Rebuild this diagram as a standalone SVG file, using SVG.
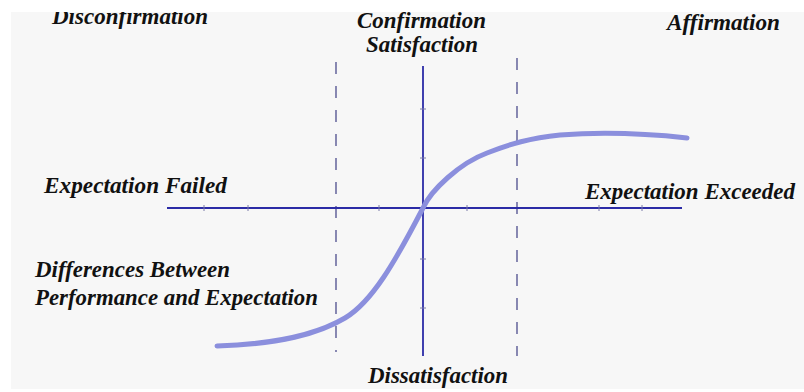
<svg xmlns="http://www.w3.org/2000/svg" width="804" height="392" viewBox="0 0 804 392">
<defs>
<style>
.lbl{font-family:"Liberation Serif","Times New Roman",serif;font-weight:bold;font-style:italic;font-size:23px;fill:#111}
.axis{stroke:#2b2ba6;stroke-width:1.8;fill:none}
.dash{stroke:#6c6ca0;stroke-width:1.6;stroke-dasharray:12 12;fill:none}
.tick{stroke:#7a7aa8;stroke-width:1;fill:none}
.curve{stroke:#8b8fdd;stroke-width:5;fill:none;stroke-linecap:round}
</style>
</defs>
<rect width="804" height="392" fill="#ffffff"/>
<rect x="11" y="12" width="793" height="377" fill="#f7f7f7"/>
<g id="connectors">
<line class="dash" x1="336" y1="62" x2="336" y2="352"/>
<line class="dash" x1="517" y1="58" x2="517" y2="356"/>
<line class="axis" x1="167" y1="208" x2="682" y2="208"/>
<line class="axis" x1="423" y1="66" x2="423" y2="356"/>
<path class="tick" d="M204,205V211M248,205V211M379,205V211M467,205V211M599,205V211M642,205V211M420,109H426M420,158H426M420,259H426M420,308H426"/>
<path class="curve" d="M217,346 C280,344 318,334 345,318 C372,302 395,262 423,208 C431,190 460,163 487,153 C510,144 530,138 560,135 C600,132 650,134 687,138"/>
</g>
<g id="disconfirmation"><text class="lbl" x="52" y="24" textLength="156" lengthAdjust="spacingAndGlyphs">Disconfirmation</text></g>
<g id="confirmation"><text class="lbl" x="357" y="28" textLength="129" lengthAdjust="spacingAndGlyphs">Confirmation</text>
<text class="lbl" x="366" y="52" textLength="112" lengthAdjust="spacingAndGlyphs">Satisfaction</text></g>
<g id="affirmation"><text class="lbl" x="667" y="30" textLength="113" lengthAdjust="spacingAndGlyphs">Affirmation</text></g>
<g id="failed"><text class="lbl" x="44" y="193" textLength="183" lengthAdjust="spacingAndGlyphs">Expectation Failed</text></g>
<g id="exceeded"><text class="lbl" x="585" y="199" textLength="210" lengthAdjust="spacingAndGlyphs">Expectation Exceeded</text></g>
<g id="differences"><text class="lbl" x="35" y="277" textLength="195" lengthAdjust="spacingAndGlyphs">Differences Between</text>
<text class="lbl" x="35" y="305" textLength="283" lengthAdjust="spacingAndGlyphs">Performance and Expectation</text></g>
<g id="dissatisfaction"><text class="lbl" x="368" y="383" textLength="140" lengthAdjust="spacingAndGlyphs">Dissatisfaction</text></g>
<rect x="0" y="0" width="804" height="12" fill="#ffffff"/>
</svg>
